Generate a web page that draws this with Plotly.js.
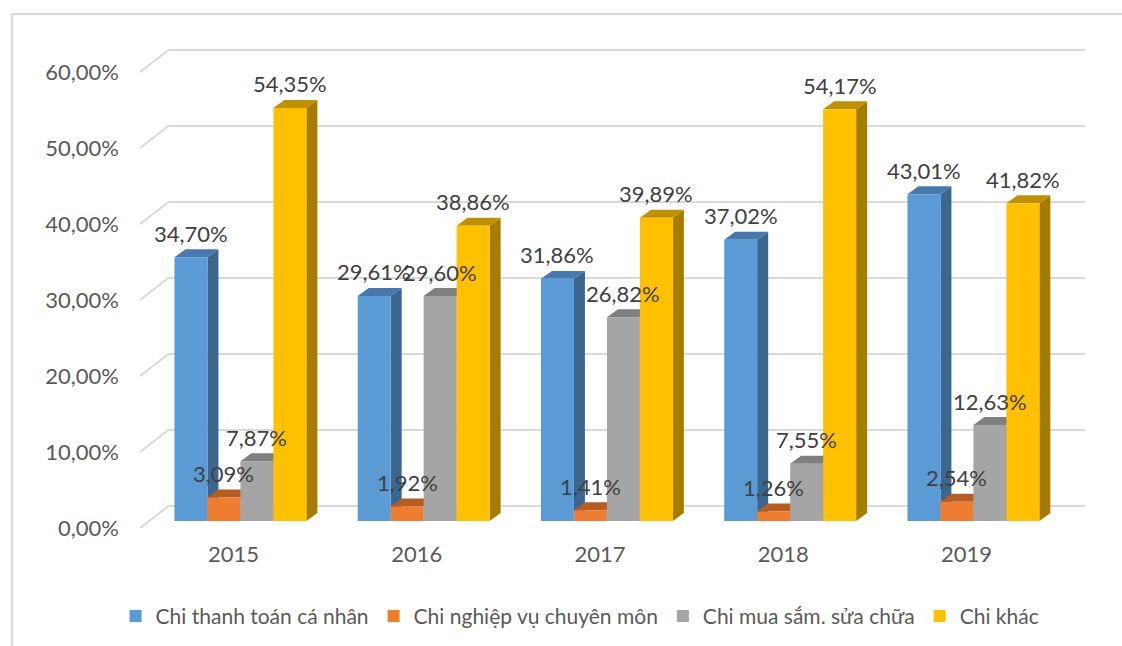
<!DOCTYPE html>
<html>
<head>
<meta charset="utf-8">
<script src="https://cdn.plot.ly/plotly-3.0.1.min.js"></script>
<style>html,body{margin:0;padding:0;background:#fff;}#chart{width:1122px;height:646px;}</style>
</head>
<body>
<div id="chart"></div>
<script>
// ---- data ----
const years = ['2015', '2016', '2017', '2018', '2019'];
const seriesNames = ['Chi thanh toán cá nhân', 'Chi nghiệp vụ chuyên môn', 'Chi mua sắm. sửa chữa', 'Chi khác'];
const chiThanhToanCaNhan = [34.70, 29.61, 31.86, 37.02, 43.01];
const chiNghiepVuChuyenMon = [3.09, 1.92, 1.41, 1.26, 2.54];
const chiMuaSamSuaChua = [7.87, 29.60, 26.82, 7.55, 12.63];
const chiKhac = [54.35, 38.86, 39.89, 54.17, 41.82];
const yTickVals = [0, 10, 20, 30, 40, 50, 60];
const yTickText = ['0,00%', '10,00%', '20,00%', '30,00%', '40,00%', '50,00%', '60,00%'];

// ---- style ----
const seriesValues = [chiThanhToanCaNhan, chiNghiepVuChuyenMon, chiMuaSamSuaChua, chiKhac];
const frontColors = ['#5B9BD5', '#ED7D31', '#A5A5A5', '#FFC000'];
const topColors = ['#4779AE', '#B65D22', '#7F7F7F', '#BF9000'];
const sideColors = ['#3A6690', '#A9561E', '#707070', '#A67C00'];
const FONT = 'Lato, "Open Sans", sans-serif';
const xRange = [-0.548, 4.609];
const yRange = [0, 64.21];
const barBase = 0.92;     // bar plane sits slightly behind the front plane
const nS = seriesValues.length;
const bargap = 0.28;
const barW = (1 - bargap) / nS;
const depthX = 0.06, depthY = 1.05;   // bar depth projection
const wallX = 0.155, wallY = 2.89;    // back wall projection

const fmt = v => v.toFixed(2).replace('.', ',') + '%';
const xIdx = years.map((_, i) => i);

const traces = seriesValues.map((vals, s) => ({
  type: 'bar',
  name: seriesNames[s],
  x: xIdx,
  y: vals,
  base: vals.map(() => barBase),
  marker: {color: frontColors[s], line: {width: 0}},
  hoverinfo: 'skip'
}));

const shapes = [];
// chart border
shapes.push({type: 'rect', xref: 'paper', yref: 'paper', x0: -0.1354, x1: 1.2, y0: 1.0533, y1: -0.4,
  line: {color: '#D9D9D9', width: 2}, fillcolor: 'rgba(0,0,0,0)', layer: 'below'});
// grid on back wall
yTickVals.forEach(v => {
  shapes.push({type: 'line', xref: 'x', yref: 'y', x0: xRange[0], y0: v, x1: xRange[0] + wallX, y1: v + wallY,
    line: {color: '#D9D9D9', width: 2}, layer: 'below'});
  shapes.push({type: 'line', xref: 'x', yref: 'y', x0: xRange[0] + wallX, y0: v + wallY, x1: xRange[1], y1: v + wallY,
    line: {color: '#D9D9D9', width: 2}, layer: 'below'});
});
// 3D faces of bars
const annotations = [];
xIdx.forEach(c => {
  seriesValues.forEach((vals, s) => {
    const v = vals[c];
    const L = c - (1 - bargap) / 2 + s * barW;
    const R = L + barW;
    const b = barBase, t = barBase + v;
    shapes.push({type: 'path', xref: 'x', yref: 'y', layer: 'below', line: {width: 0},
      fillcolor: sideColors[s],
      path: `M ${R},${b} L ${R},${t} L ${R + depthX},${t + depthY} L ${R + depthX},${b + depthY} Z`});
    shapes.push({type: 'path', xref: 'x', yref: 'y', layer: 'below', line: {width: 0},
      fillcolor: topColors[s],
      path: `M ${L},${t} L ${R},${t} L ${R + depthX},${t + depthY} L ${L + depthX},${t + depthY} Z`});
    annotations.push({x: (L + R) / 2, y: t, xref: 'x', yref: 'y', text: fmt(v), showarrow: false,
      yanchor: 'middle', yshift: 24, font: {family: FONT, size: 22, color: '#404040'}});
  });
});

const layout = {
  width: 1122, height: 646,
  margin: {l: 140, r: 37, t: 40, b: 118, pad: 0},
  paper_bgcolor: '#ffffff', plot_bgcolor: 'rgba(0,0,0,0)',
  barmode: 'group', bargap: bargap, bargroupgap: 0,
  hovermode: false,
  font: {family: FONT, color: '#595959'},
  xaxis: {
    range: xRange, showgrid: false, zeroline: false, showline: false,
    tickvals: xIdx, ticktext: years, ticks: '', ticklabelstandoff: 11, ticklabelshift: -7,
    tickfont: {family: FONT, size: 22, color: '#595959'}, fixedrange: true
  },
  yaxis: {
    range: yRange, showgrid: false, zeroline: false, showline: false,
    tickvals: yTickVals, ticktext: yTickText, ticks: '', ticklabelstandoff: 20,
    tickfont: {family: FONT, size: 22, color: '#595959'}, fixedrange: true
  },
  showlegend: true,
  legend: {
    orientation: 'h', xref: 'container', yref: 'container', x: 0.517, xanchor: 'center',
    y: 0.046, yanchor: 'middle', font: {family: FONT, size: 21, color: '#595959'},
    traceorder: 'normal', itemclick: false, itemdoubleclick: false
  },
  shapes: shapes,
  annotations: annotations
};

Plotly.newPlot('chart', traces, layout, {displayModeBar: false, staticPlot: true});
</script>
</body>
</html>
